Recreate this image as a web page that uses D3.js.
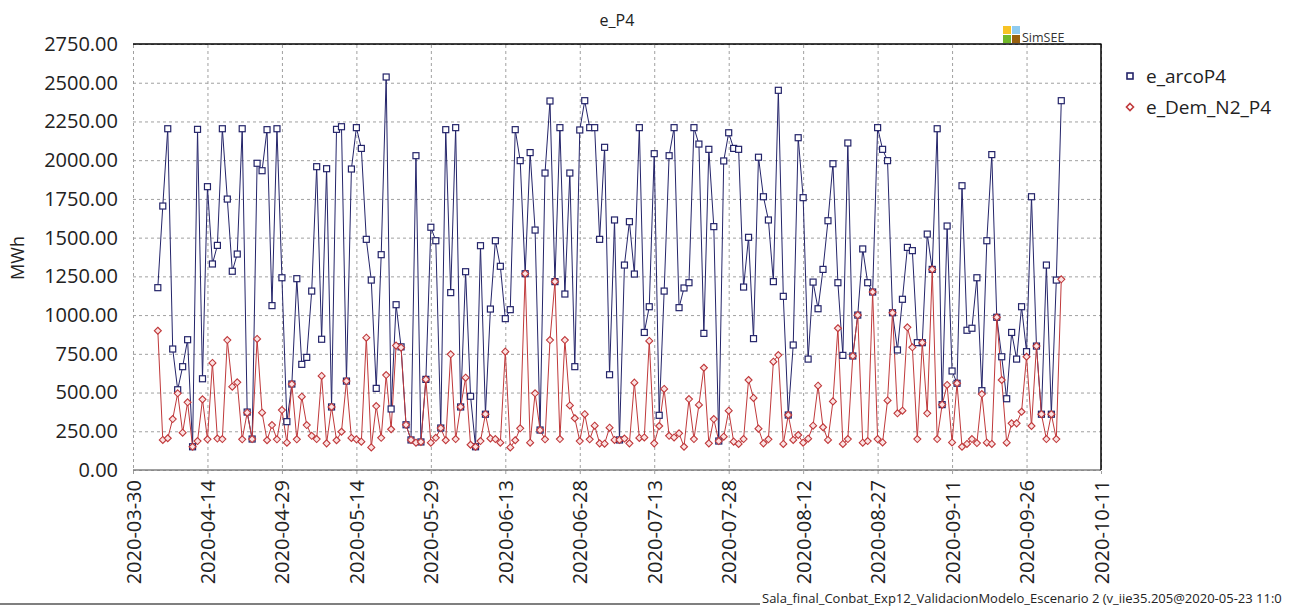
<!DOCTYPE html>
<html><head><meta charset="utf-8">
<script src="https://cdn.jsdelivr.net/npm/d3@7"></script>
<style>
body{margin:0;background:#fff;overflow:hidden;}
svg{display:block;font-family:"Open Sans","Noto Sans",sans-serif;}
</style>
</head><body>
<svg id="c" width="1293" height="608"></svg>
<script>
// ---------------- data ----------------
const chartTitle = "e_P4";
const yAxisTitle = "MWh";
const seriesNames = ["e_arcoP4", "e_Dem_N2_P4"];
const firstDate = "2020-04-04"; // daily values
const arcoP4 = [
 1177,1704,2203,781,518,667,841,150,2199,589,
 1829,1330,1450,2203,1749,1283,1394,2203,374,200,
 1980,1932,2197,1061,2203,1241,312,555,1235,682,
 727,1155,1958,844,1945,407,2199,2216,574,1943,
 2210,2076,1489,1226,527,1390,2537,394,1067,795,
 292,194,2029,181,585,1567,1480,271,2197,1145,
 2210,407,1280,476,150,1448,360,1039,1480,1315,
 977,1035,2197,1997,1267,2049,1549,258,1917,2382,
 1216,2210,1136,1917,667,2195,2384,2210,2210,1489,
 2083,615,1614,194,1323,1603,1265,2210,888,1054,
 2042,353,1155,2029,2210,1048,1175,1209,2210,2104,
 882,2070,1571,187,1995,2177,2076,2070,1181,1502,
 848,2019,1764,1614,1216,2451,1121,355,807,2145,
 1758,716,1213,1041,1295,1609,1977,1209,740,2111,
 736,1000,1427,1209,1149,2210,2070,1997,1015,775,
 1102,1437,1416,822,822,1523,1295,2203,422,1575,
 639,560,1835,902,915,1241,512,1480,2036,986,
 731,460,888,716,1054,764,1764,800,360,1323,
 360,1226,2384
];
const demN2P4 = [
 899,194,205,329,495,241,437,150,187,456,
 198,691,203,200,839,538,566,198,370,200,
 846,370,192,290,198,387,176,555,198,473,
 290,221,200,607,172,407,192,247,574,207,
 198,183,854,146,413,208,613,263,803,790,
 292,194,176,181,585,176,208,271,192,747,
 200,407,596,163,150,187,360,204,200,176,
 764,146,192,269,1267,176,495,258,198,839,
 1216,200,839,417,334,187,360,198,286,172,
 170,273,194,194,203,172,564,207,210,833,
 172,284,523,221,210,237,150,458,200,420,
 660,172,329,187,215,383,183,168,200,581,
 465,267,172,198,699,742,168,355,194,226,
 176,202,286,544,276,194,443,915,168,200,
 736,1000,176,187,1149,200,178,449,1015,366,
 383,921,792,200,822,366,1295,200,422,549,
 178,560,150,168,200,174,490,176,168,986,
 581,176,301,301,376,731,284,800,360,200,
 360,200,1231
];
const yTickValues = [0,250,500,750,1000,1250,1500,1750,2000,2250,2500,2750];
const xTickLabels = ["2020-03-30","2020-04-14","2020-04-29","2020-05-14","2020-05-29",
 "2020-06-13","2020-06-28","2020-07-13","2020-07-28","2020-08-12","2020-08-27",
 "2020-09-11","2020-09-26","2020-10-11"];
const footerText = "Sala_final_Conbat_Exp12_ValidacionModelo_Escenario 2 (v_iie35.205@2020-05-23 11:0";

// ---------------- chart ----------------
const svg = d3.select("#c");
const L = 133, R = 1101, T = 44, B = 470;
const parse = d3.utcParse("%Y-%m-%d");
const x = d3.scaleUtc()
  .domain([parse(xTickLabels[0]), parse(xTickLabels[xTickLabels.length - 1])])
  .range([L, R]);
const y = d3.scaleLinear().domain([0, 2750]).range([B, T]);
const d0 = parse(firstDate);
const blue = arcoP4.map((v, i) => ({date: d3.utcDay.offset(d0, i), v}));
const red = demN2P4.map((v, i) => ({date: d3.utcDay.offset(d0, i), v}));

const gridColor = "#a0a0a0";

// y axis with horizontal grid
const yAxis = svg.append("g").attr("transform", `translate(${L},0)`)
  .call(d3.axisLeft(y).tickValues(yTickValues).tickFormat(d3.format(".2f"))
        .tickSize(-(R - L)).tickPadding(15));
yAxis.select(".domain").remove();
yAxis.selectAll(".tick line").attr("stroke", gridColor).attr("stroke-dasharray", "3,3");
yAxis.selectAll(".tick text").attr("font-size", 20).attr("fill", "#222")
  .attr("font-family", "'Open Sans',sans-serif");

// x axis with vertical grid
const xAxis = svg.append("g").attr("transform", `translate(0,${B})`)
  .call(d3.axisBottom(x).tickValues(xTickLabels.map(parse)).tickFormat(d3.utcFormat("%Y-%m-%d"))
        .tickSizeInner(-(B - T)).tickSizeOuter(0));
xAxis.select(".domain").remove();
xAxis.selectAll(".tick line").attr("stroke", gridColor).attr("stroke-dasharray", "3,3")
  .attr("y1", 4);
xAxis.selectAll(".tick text")
  .attr("font-size", 20).attr("fill", "#222").attr("font-family", "'Open Sans',sans-serif")
  .attr("transform", "rotate(-90)")
  .attr("x", -10).attr("y", 0).attr("dy", "0.35em")
  .style("text-anchor", "end");

// frame
svg.append("line").attr("x1", L).attr("x2", R).attr("y1", B).attr("y2", B)
  .attr("stroke", "#808080").attr("stroke-width", 1.5);
svg.append("line").attr("x1", L).attr("x2", R + 0.5).attr("y1", T).attr("y2", T)
  .attr("stroke", "#000").attr("stroke-width", 1.5);
svg.append("line").attr("x1", R).attr("x2", R).attr("y1", T).attr("y2", B)
  .attr("stroke", "#000").attr("stroke-width", 1.5);

// series
const line = d3.line().x(d => x(d.date)).y(d => y(d.v));
const blueColor = "#24246a", redColor = "#c0393b";

svg.append("path").datum(blue).attr("d", line).attr("fill", "none")
  .attr("stroke", blueColor).attr("stroke-width", 1);
svg.append("path").datum(red).attr("d", line).attr("fill", "none")
  .attr("stroke", redColor).attr("stroke-width", 1);

svg.append("g").selectAll("rect").data(blue).join("rect")
  .attr("x", d => x(d.date) - 3).attr("y", d => y(d.v) - 3)
  .attr("width", 6).attr("height", 6)
  .attr("fill", "#fff").attr("stroke", blueColor).attr("stroke-width", 1.2);

const diamond = s => `M0,${-s}L${s},0L0,${s}L${-s},0Z`;
svg.append("g").selectAll("path").data(red).join("path")
  .attr("transform", d => `translate(${x(d.date)},${y(d.v)})`)
  .attr("d", diamond(3.5))
  .attr("fill", "#fbe3e3").attr("stroke", redColor).attr("stroke-width", 1.1);

// titles
svg.append("text").attr("x", 617).attr("y", 26).attr("text-anchor", "middle")
  .attr("font-size", 16).attr("fill", "#222").text(chartTitle);
svg.append("text").attr("transform", "translate(24,258) rotate(-90)")
  .attr("text-anchor", "middle").attr("font-size", 18).attr("fill", "#222").text(yAxisTitle);

// SimSEE logo
const logo = [["#f7c325", 0, 0], ["#8fcbf0", 1, 0], ["#72b82a", 0, 1], ["#98600f", 1, 1]];
svg.append("g").selectAll("rect").data(logo).join("rect")
  .attr("x", d => 1003 + d[1] * 9).attr("y", d => 26 + d[2] * 9)
  .attr("width", 8).attr("height", 8).attr("fill", d => d[0]);
svg.append("text").attr("x", 1022).attr("y", 42).attr("font-size", 12.5)
  .attr("fill", "#333").text("SimSEE");

// legend
const lg = svg.append("g");
const ly = [76, 107];
lg.append("rect").attr("x", 1127).attr("y", ly[0] - 3).attr("width", 6).attr("height", 6)
  .attr("fill", "#fff").attr("stroke", blueColor).attr("stroke-width", 1.6);
lg.append("path").attr("transform", `translate(1130,${ly[1]})`).attr("d", diamond(3.5))
  .attr("fill", "#fff").attr("stroke", redColor).attr("stroke-width", 1.6);
lg.selectAll("text").data(seriesNames).join("text")
  .attr("x", 1146).attr("y", (d, i) => ly[i]).attr("dy", "0.35em")
  .attr("font-size", 19).attr("fill", "#222").text(d => d);

// footer
svg.append("line").attr("x1", 0).attr("x2", 760).attr("y1", 604).attr("y2", 604)
  .attr("stroke", "#000").attr("stroke-width", 1.2);
svg.append("text").attr("x", 762).attr("y", 603).attr("font-size", 13)
  .attr("fill", "#222").text(footerText);
</script>
</body></html>
